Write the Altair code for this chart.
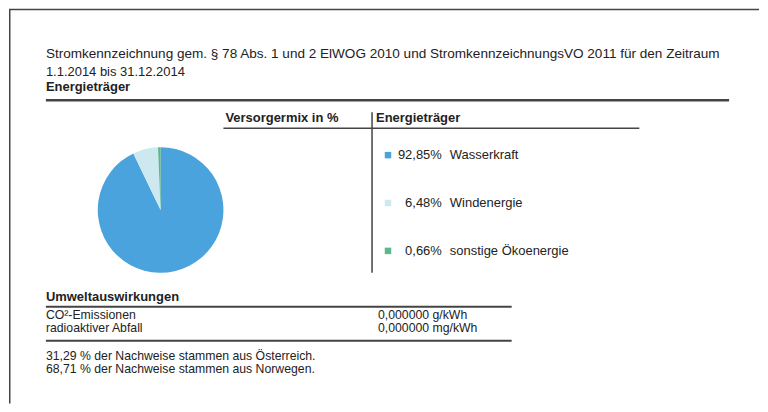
import altair as alt
import pandas as pd

# ---- data ----
categories = ["Wasserkraft", "Windenergie", "sonstige Ökoenergie"]
shares = [92.85, 6.48, 0.66]
pct_labels = ["92,85%", "6,48%", "0,66%"]
colors = ["#4aa3dc", "#cde9ef", "#5cb88a"]

title_line1 = "Stromkennzeichnung gem. § 78 Abs. 1 und 2 ElWOG 2010 und StromkennzeichnungsVO 2011 für den Zeitraum"
title_line2 = "1.1.2014 bis 31.12.2014"
section1 = "Energieträger"
col_head1 = "Versorgermix in %"
col_head2 = "Energieträger"
section2 = "Umweltauswirkungen"
env_labels = ["CO²-Emissionen", "radioaktiver Abfall"]
env_values = ["0,000000 g/kWh", "0,000000 mg/kWh"]
origin_lines = [
    "31,29 % der Nachweise stammen aus Österreich.",
    "68,71 % der Nachweise stammen aus Norwegen.",
]

FONT = "Liberation Sans, Arial, sans-serif"
FS = 13
TXT = "#222222"
LINE = "#444444"

df = pd.DataFrame({
    "cat": categories,
    "share": shares,
    "pct": pct_labels,
    "row": list(range(len(categories))),
})

color_scale = alt.Scale(domain=categories, range=colors)
row_y = alt.Y("row:Q", scale=alt.Scale(domain=[0, 2], range=[147, 243]), axis=None)


def one(s):
    return alt.Chart(pd.DataFrame({"t": [s]}))


def txt(s, x, y, bold=False, align="left", size=FS):
    return one(s).mark_text(
        align=align, baseline="middle", font=FONT, fontSize=size,
        fontWeight="bold" if bold else "normal", color=TXT,
    ).encode(text="t:N", x=alt.value(x), y=alt.value(y))


def hrule(x1, x2, y, w=1.5):
    return one("r").mark_rule(color=LINE, strokeWidth=w).encode(
        x=alt.value(x1), x2=alt.value(x2), y=alt.value(y))


def vrule(x, y1, y2, w=1.5):
    return one("r").mark_rule(color=LINE, strokeWidth=w).encode(
        x=alt.value(x), y=alt.value(y1), y2=alt.value(y2))


pie = alt.Chart(df).mark_arc(radius=63).encode(
    theta=alt.Theta("share:Q", stack=True),
    order=alt.Order("row:Q"),
    color=alt.Color("cat:N", scale=color_scale, legend=None),
    x=alt.value(152), y=alt.value(202),
)

squares = alt.Chart(df).mark_square(size=42, opacity=1).encode(
    x=alt.value(380), y=row_y,
    color=alt.Color("cat:N", scale=color_scale, legend=None),
)
pcts = alt.Chart(df).mark_text(align="right", baseline="middle", font=FONT,
                               fontSize=FS, color=TXT).encode(
    x=alt.value(434), y=row_y, text="pct:N")
names = alt.Chart(df).mark_text(align="left", baseline="middle", font=FONT,
                                fontSize=FS, color=TXT).encode(
    x=alt.value(442), y=row_y, text="cat:N")

SMALL = 12.3
layers = [
    hrule(0, 752, 1, 1.5),
    vrule(0.75, 1, 396, 1.5),
    txt(title_line1, 37, 46, size=13.6),
    txt(title_line2, 37, 64),
    txt(section1, 37, 79, bold=True),
    hrule(37, 722, 92, 2.5),
    txt(col_head1, 217, 110, bold=True),
    hrule(215, 364, 120, 1.5),
    vrule(364, 104, 265, 1.5),
    txt(col_head2, 368, 110, bold=True),
    hrule(364, 632, 120, 1.5),
    pie, squares, pcts, names,
    txt(section2, 37, 289, bold=True),
    hrule(37, 504, 299, 2),
    txt(env_labels[0], 37, 307, size=SMALL),
    txt(env_values[0], 370, 307, size=SMALL),
    txt(env_labels[1], 37, 320, size=SMALL),
    txt(env_values[1], 370, 320, size=SMALL),
    hrule(37, 504, 333, 2),
    txt(origin_lines[0], 37, 348, size=SMALL),
    txt(origin_lines[1], 37, 361, size=SMALL),
]

chart = alt.layer(*layers).properties(
    width=752, height=396, padding=0, background="white"
).configure_view(strokeWidth=0)

chart.save("out.html", embed_options={"renderer": "svg", "actions": False})
